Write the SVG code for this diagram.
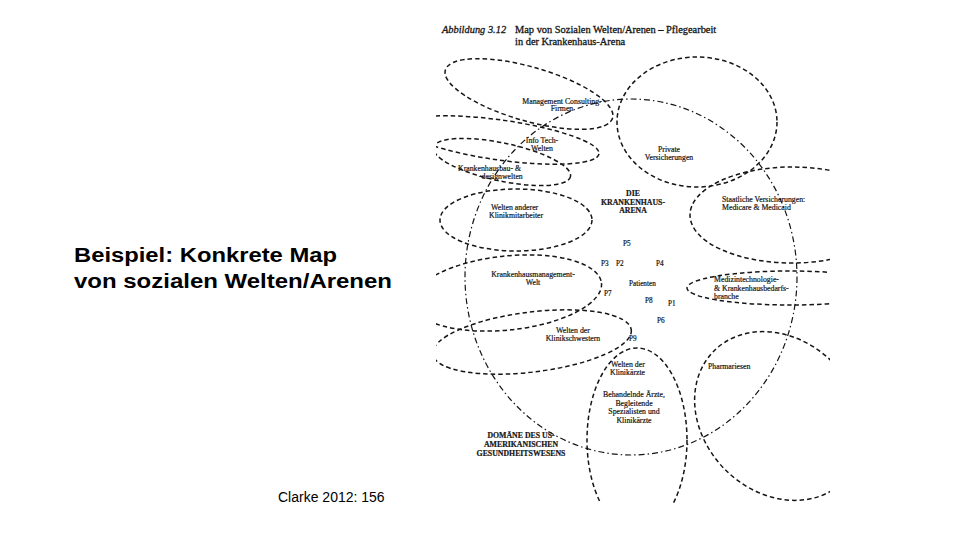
<svg xmlns="http://www.w3.org/2000/svg" width="960" height="540" viewBox="0 0 960 540">
<style>
.bg{fill:#ffffff}
.w{fill:none;stroke:#151515;stroke-width:1.5;stroke-dasharray:4.5 3}
.a{fill:none;stroke:#151515;stroke-width:1.2;stroke-dasharray:6 3 1.5 3}
.t{font-family:"Liberation Serif","Times New Roman",serif;font-size:7.8px;fill:#151515;stroke:#151515;stroke-width:0.2}
.p{font-size:7.2px}
.c{text-anchor:middle}
.b{font-weight:bold}
.ti{font-family:"Liberation Serif","Times New Roman",serif;font-size:10.4px;fill:#151515;stroke:#151515;stroke-width:0.3}
.h{font-family:"Liberation Sans",Arial,sans-serif;fill:#000}
</style>
<defs>
<clipPath id="scan"><rect x="436" y="12" width="394" height="491"/></clipPath>
</defs>
<rect class="bg" x="0" y="0" width="960" height="540"/>

<g id="slide-title">
<text class="h" x="74" y="262" font-size="20" font-weight="bold" textLength="263" lengthAdjust="spacingAndGlyphs">Beispiel: Konkrete Map</text>
<text class="h" x="74" y="288" font-size="20" font-weight="bold" textLength="318" lengthAdjust="spacingAndGlyphs">von sozialen Welten/Arenen</text>
</g>
<g id="source">
<text class="h" x="278" y="502" font-size="14">Clarke 2012: 156</text>
</g>

<g id="figure-caption">
<text class="ti" x="442" y="33" font-style="italic">Abbildung 3.12</text>
<text class="ti" x="515" y="33">Map von Sozialen Welten/Arenen – Pflegearbeit</text>
<text class="ti" x="515" y="45">in der Krankenhaus-Arena</text>
</g>

<g id="map" clip-path="url(#scan)">
<g id="arena">
<ellipse class="a" cx="631" cy="277" rx="166" ry="178"/>
</g>
<g id="management-consulting">
<ellipse class="w" cx="529" cy="94" rx="87" ry="27" transform="rotate(16 529 94)"/>
</g>
<g id="info-tech">
<ellipse class="w" cx="500" cy="140" rx="100" ry="20" transform="rotate(8 500 140)"/>
</g>
<g id="krankenhausbau">
<ellipse class="w" cx="502" cy="162" rx="70" ry="19" transform="rotate(12 502 162)"/>
</g>
<g id="andere-klinikmitarbeiter">
<ellipse class="w" cx="516" cy="220" rx="76" ry="31"/>
</g>
<g id="krankenhausmanagement">
<ellipse class="w" cx="507" cy="293" rx="95" ry="37" transform="rotate(-6 507 293)"/>
</g>
<g id="klinikschwestern">
<ellipse class="w" cx="532" cy="342" rx="100" ry="30" transform="rotate(-7 532 342)"/>
</g>
<g id="klinikaerzte">
<ellipse class="w" cx="637" cy="440" rx="50" ry="92"/>
</g>
<g id="pharmariesen">
<ellipse class="w" cx="779" cy="416" rx="92" ry="76" transform="rotate(45 779 416)"/>
</g>
<g id="private-versicherungen">
<ellipse class="w" cx="697" cy="122" rx="80" ry="65"/>
</g>
<g id="staatliche-versicherungen">
<ellipse class="w" cx="792" cy="215" rx="102" ry="48"/>
</g>
<g id="medizintechnologie">
<ellipse class="w" cx="790" cy="288" rx="103" ry="17"/>
</g>
</g>

<g id="connectors"></g>

<g id="labels">
<g id="label-management-consulting">
<text class="t c" x="562" y="103.5">Management Consulting-</text>
<text class="t c" x="562" y="111">Firmen</text>
</g>
<g id="label-info-tech">
<text class="t c" x="542" y="142.5">Info Tech-</text>
<text class="t c" x="542" y="150.5">Welten</text>
</g>
<g id="label-krankenhausbau">
<text class="t" x="458" y="171">Krankenhausbau- &amp;</text>
<text class="t" x="479" y="179">-designwelten</text>
</g>
<g id="label-andere">
<text class="t" x="491" y="209.5">Welten anderer</text>
<text class="t" x="489" y="217.5">Klinikmitarbeiter</text>
</g>
<g id="label-arena">
<text class="t c b" x="633" y="196" font-size="8.2">DIE</text>
<text class="t c b" x="633" y="204.5" font-size="8.2">KRANKENHAUS-</text>
<text class="t c b" x="633" y="213" font-size="8.2">ARENA</text>
</g>
<g id="patienten">
<text class="t p" x="623" y="246">P5</text>
<text class="t p" x="601" y="266">P3</text>
<text class="t p" x="616" y="266">P2</text>
<text class="t p" x="656" y="266">P4</text>
<text class="t p" x="629" y="286">Patienten</text>
<text class="t p" x="604" y="296">P7</text>
<text class="t p" x="645" y="303">P8</text>
<text class="t p" x="668" y="306">P1</text>
<text class="t p" x="657" y="323">P6</text>
<text class="t p" x="629" y="341">P9</text>
</g>
<g id="label-private">
<text class="t c" x="669" y="152">Private</text>
<text class="t c" x="669" y="160">Versicherungen</text>
</g>
<g id="label-staatliche">
<text class="t" x="722" y="202">Staatliche Versicherungen:</text>
<text class="t" x="722" y="210">Medicare &amp; Medicaid</text>
</g>
<g id="label-krankenhausmanagement">
<text class="t c" x="533" y="277">Krankenhausmanagement-</text>
<text class="t c" x="533" y="285">Welt</text>
</g>
<g id="label-medizintechnologie">
<text class="t" x="714" y="282">Medizintechnologie-</text>
<text class="t" x="714" y="290.5">&amp; Krankenhausbedarfs-</text>
<text class="t" x="714" y="299">branche</text>
</g>
<g id="label-klinikschwestern">
<text class="t c" x="573" y="333">Welten der</text>
<text class="t c" x="573" y="341">Klinikschwestern</text>
</g>
<g id="label-klinikaerzte">
<text class="t" x="611" y="367">Welten der</text>
<text class="t" x="610" y="375">Klinikärzte</text>
</g>
<g id="label-pharmariesen">
<text class="t" x="708" y="369">Pharmariesen</text>
</g>
<g id="label-behandelnde">
<text class="t c" x="634" y="397">Behandelnde Ärzte,</text>
<text class="t c" x="634" y="405.5">Begleitende</text>
<text class="t c" x="634" y="414">Spezialisten und</text>
<text class="t c" x="634" y="422.5">Klinikärzte</text>
</g>
<g id="label-domaene">
<text class="t c b" x="521" y="438" font-size="8.6">DOMÄNE DES US-</text>
<text class="t c b" x="521" y="447" font-size="8.6">AMERIKANISCHEN</text>
<text class="t c b" x="521" y="456" font-size="8.6">GESUNDHEITSWESENS</text>
</g>
</g>
</svg>
